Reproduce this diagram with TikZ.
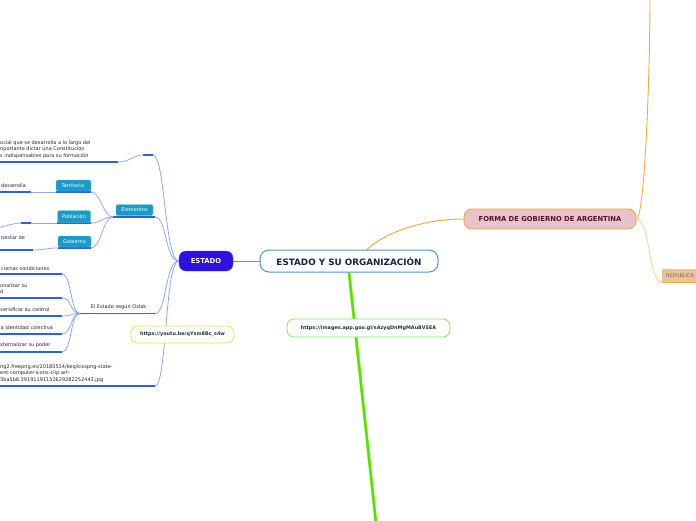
\documentclass[tikz,border=0pt]{standalone}
\usepackage{fontspec}
\setmainfont{DejaVu Sans}
\usetikzlibrary{calc,backgrounds}
\definecolor{conn}{HTML}{8CA8F6}
\definecolor{uline}{HTML}{2C60EC}
\definecolor{estfill}{HTML}{2E10E2}
\definecolor{mainb}{HTML}{4B95D1}
\definecolor{maintext}{HTML}{14244A}
\definecolor{formafill}{HTML}{E8C4CA}
\definecolor{formab}{HTML}{F3A43A}
\definecolor{formatext}{HTML}{5B1020}
\definecolor{orline}{HTML}{F5AA3C}
\definecolor{orlight}{HTML}{FAD08A}
\definecolor{repfill}{HTML}{E9C29C}
\definecolor{reptext}{HTML}{7A6A5A}
\definecolor{tealfill}{HTML}{1B9BC3}
\definecolor{tealb}{HTML}{5CC0DE}
\definecolor{grline}{HTML}{3CEB10}
\definecolor{grlinkb}{HTML}{7DEB55}
\definecolor{linktext}{HTML}{1C3A36}
\definecolor{yelb}{HTML}{D8EE3A}
\begin{document}
\begin{tikzpicture}[x=1pt,y=-1pt,
  cn/.style={draw=conn,line width=0.8pt},
  ul/.style={draw=uline,line width=1.5pt},
  small/.style={font=\fontsize{5}{6.6}\selectfont,inner sep=0pt,align=left,text=black!85},
  tealbox/.style={fill=tealfill,draw=tealb,line width=0.4pt,rounded corners=1.5pt,text=white,font=\fontsize{5}{6}\selectfont,inner sep=0pt,minimum height=11pt},
  linkbox/.style={draw,fill=white,line width=0.8pt,rounded corners=7pt,inner sep=0pt,minimum height=17pt,font=\bfseries\fontsize{4.9}{6}\selectfont,text=linktext}
]
\useasboundingbox (0,0) rectangle (696,520);

% ---------- main nodes
\node[draw=mainb,line width=1pt,rounded corners=9pt,fill=white,minimum width=178pt,minimum height=22pt,inner sep=0pt,font=\bfseries\fontsize{8.8}{10}\selectfont,text=maintext] (main) at (349,261) {ESTADO Y SU ORGANIZACIÓN};
\node[fill=estfill,draw=estfill!80!white,rounded corners=7pt,minimum width=54pt,minimum height=20pt,inner sep=0pt,text=white,font=\bfseries\fontsize{6.8}{7}\selectfont] (estado) at (206,261) {ESTADO};
\node[fill=formafill,draw=formab,line width=0.9pt,rounded corners=8pt,minimum width=172pt,minimum height=20pt,inner sep=0pt,text=formatext,font=\bfseries\fontsize{6.8}{8}\selectfont] (forma) at (550,219) {FORMA DE GOBIERNO DE ARGENTINA};
\node[fill=repfill,anchor=west,minimum width=40pt,minimum height=13pt,inner sep=0pt,text=reptext,font=\fontsize{5}{6}\selectfont,text width=36pt,align=left] (rep) at (662,275.5) {\hspace*{2pt}REPUBLICA};
\coordinate (repa) at (662,282);
\coordinate (repb) at (700,282);
\coordinate (ftop) at (650,-3);
\coordinate (gend) at (376,523);

\node[linkbox,draw=grlinkb,minimum width=163pt,minimum height=18pt] (link) at (368.5,328) {https://images.app.goo.gl/sAzyqDnMgMAuBVSEA};
\node[linkbox,draw=yelb,minimum width=103pt] (yt) at (182.5,334.5) {https://youtu.be/qYsm8Bc\_s4w};

% ---------- Elementos branch
\node[tealbox,minimum width=37pt] (elem) at (134.5,210) {Elementos};
\coordinate (ela) at (113,217); \coordinate (elb) at (155,217);
\node[tealbox,minimum width=35pt] (terr) at (73.5,185.5) {Territorio.};
\coordinate (tea) at (56,192); \coordinate (teb) at (91,192);
\node[tealbox,minimum width=33pt,minimum height=12pt] (pob) at (74,216.5) {Población};
\coordinate (poa) at (57,223); \coordinate (pob2) at (91,223);
\node[tealbox,minimum width=33pt] (gob) at (74.5,241.5) {Gobierno};
\coordinate (goa) at (58,248); \coordinate (gob2) at (91,248);

\node[small,anchor=west] (tdes) at (1,185.5) {desarrolla};
\coordinate (dea) at (-2,192); \coordinate (deb) at (31,192);
\coordinate (pea) at (21,223); \coordinate (peb) at (31,223);
\coordinate (pchild) at (-20,231);
\node[small,anchor=west] (tgob) at (1,238) {nestar de};
\coordinate (gta) at (-2,250); \coordinate (gtb) at (33,250);

% ---------- top branch
\coordinate (e1a) at (143,155); \coordinate (e1b) at (153,155);
\node[small,anchor=north west] (t1) at (0,140) {ocial que se desarrolla a lo largo del\\nportante dictar una Constitución\\s indispensables para su formación};
\coordinate (t1a) at (-2,162); \coordinate (t1b) at (118,162);

% ---------- Ozlak branch
\node[small] (oz) at (118.5,307.5) {El Estado según Ozlak};
\coordinate (oza) at (80,313.5); \coordinate (ozb) at (155,313.5);
\node[small,anchor=west] (c1) at (1,268.5) {ciertas condiciones};
\coordinate (c1a) at (-2,274); \coordinate (c1b) at (62,274);
\node[small,anchor=west] (c2) at (0,288.5) {onalizar su\\d};
\coordinate (c2a) at (-2,298); \coordinate (c2b) at (62,298);
\node[small,anchor=west] (c3) at (0,310) {versificar su control};
\coordinate (c3a) at (-2,316); \coordinate (c3b) at (62,316);
\node[small,anchor=west] (c4) at (0.5,328) {a identidad colectiva};
\coordinate (c4a) at (-2,334); \coordinate (c4b) at (62,334);
\node[small,anchor=west] (c5) at (0,345.5) {xternalizar su poder};
\coordinate (c5a) at (-2,352); \coordinate (c5b) at (62,352);

% ---------- jpg branch
\node[small,anchor=north west] (tj) at (0,364) {ng2.freepng.es/20180514/keq/kisspng-state-\\ent-computer-icons-clip-art-\\3ba5b8.39191191152629282252443.jpg};
\coordinate (tja) at (-2,386); \coordinate (tjb) at (155,386);

\begin{pgfonlayer}{background}
  % green line
  \draw[draw=yellow!80!green,line width=3pt] (main.south) -- (gend);
  \draw[draw=grline,line width=2.2pt] (main.south) -- (gend);
  % orange
  \draw[draw=orline,line width=1pt] ($(main.north)+(18,0)$) .. controls +(22,-20) and +(-35,0) .. (forma.west);
  \draw[draw=orline,line width=0.9pt] (forma.east) .. controls +(8,0) and +(0,80) .. (ftop);
  \draw[draw=orlight,line width=0.8pt] (forma.east) .. controls +(14,0) and +(-14,0) .. (repa);
  \draw[draw=orline,line width=1.5pt] (repa) -- (repb);
  % blue main link
  \draw[draw=conn!80!blue,line width=1pt] (estado.east) -- (main.west);
  % estado children
  \draw[cn] (estado.west) .. controls +(-14,0) and +(12,0) .. (e1b);
  \draw[cn] (estado.west) .. controls +(-14,0) and +(12,0) .. (elb);
  \draw[cn] (estado.west) .. controls +(-14,0) and +(12,0) .. (ozb);
  \draw[cn] (estado.west) .. controls +(-14,0) and +(12,0) .. (tjb);
  % underlines
  \draw[ul] (e1a) -- (e1b);
  \draw[cn] (e1a) .. controls +(-10,0) and +(12,0) .. (t1b);
  \draw[ul] (t1a) -- (t1b);
  \draw[ul] (ela) -- (elb);
  \draw[cn] (ela) .. controls +(-10,0) and +(10,0) .. (teb);
  \draw[cn] (ela) .. controls +(-10,0) and +(10,0) .. (pob2);
  \draw[cn] (ela) .. controls +(-10,0) and +(10,0) .. (gob2);
  \draw[ul] (tea) -- (teb);
  \draw[ul] (poa) -- (pob2);
  \draw[ul] (goa) -- (gob2);
  \draw[cn] (tea) -- (deb);
  \draw[ul] (dea) -- (deb);
  \draw[cn] (poa) -- (peb);
  \draw[ul] (pea) -- (peb);
  \draw[cn] (pea) .. controls +(-10,0) and +(12,0) .. (pchild);
  \draw[cn] (goa) .. controls +(-12,0) and +(12,0) .. (gtb);
  \draw[ul] (gta) -- (gtb);
  \draw[ul] (oza) -- (ozb);
  \foreach \c in {c1,c2,c3,c4,c5}{
    \draw[cn] (oza) .. controls +(-10,0) and +(10,0) .. (\c b);
    \draw[ul] (\c a) -- (\c b);
  }
  \draw[ul] (tja) -- (tjb);
\end{pgfonlayer}
\end{tikzpicture}
\end{document}
